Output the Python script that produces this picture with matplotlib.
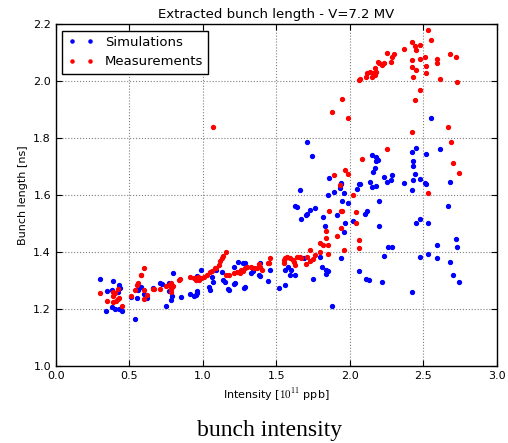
import matplotlib
matplotlib.use("Agg")
import matplotlib.pyplot as plt

# Simulations (blue)
sim_x = [0.30, 0.34, 0.35, 0.38, 0.39, 0.38, 0.40, 0.42, 0.43, 0.435, 0.43, 0.45,
         0.51, 0.535, 0.55, 0.58, 0.60, 0.62, 0.56, 0.66, 0.71, 0.72, 0.75, 0.77,
         0.78, 0.79, 0.80, 0.77, 0.85, 0.91, 0.94, 0.96, 0.96, 0.96, 0.99, 0.97,
         0.95, 1.04, 1.05, 1.06, 1.07, 1.09, 1.13, 1.14, 1.15, 1.17, 1.18, 1.21,
         1.21, 1.22, 1.24, 1.27, 1.29, 1.28, 1.29, 1.33, 1.34, 1.38, 1.39, 1.39,
         1.44, 1.46, 1.52, 1.56, 1.56, 1.58, 1.59, 1.60, 1.63, 1.63, 1.64, 1.66,
         1.67, 1.70, 1.71, 1.73, 1.76, 1.71, 1.74, 1.82, 1.83, 1.69, 1.75, 1.80,
         1.81, 1.84, 1.85, 1.84, 1.88, 1.85, 1.86, 1.89, 1.93, 1.94, 1.94, 1.96,
         1.95, 1.99, 1.91, 1.97, 1.96, 1.94, 2.02, 2.05, 2.06, 2.07, 2.06, 2.10,
         2.12, 2.11, 2.13, 2.14, 2.15, 2.15, 2.18, 2.19, 2.18, 2.17, 2.16, 2.18,
         2.20, 2.20, 2.22, 2.23, 2.23, 2.25, 2.26, 2.29, 2.28, 2.29, 2.37, 2.42,
         2.45, 2.43, 2.43, 2.44, 2.43, 2.48, 2.51, 2.52, 2.42, 2.42, 2.48, 2.45,
         2.53, 2.48, 2.53, 2.55, 2.52, 2.61, 2.59, 2.59, 2.68, 2.67, 2.68, 2.70,
         2.72, 2.73, 2.74]
sim_y = [1.305, 1.194, 1.263, 1.268, 1.298, 1.206, 1.199, 1.261, 1.283, 1.275, 1.200, 1.193,
         1.243, 1.166, 1.237, 1.278, 1.251, 1.237, 1.267, 1.274, 1.292, 1.288, 1.210, 1.263,
         1.230, 1.245, 1.326, 1.290, 1.241, 1.253, 1.245, 1.263, 1.255, 1.316, 1.336, 1.313,
         1.249, 1.278, 1.267, 1.311, 1.296, 1.337, 1.331, 1.302, 1.296, 1.270, 1.267, 1.287,
         1.348, 1.290, 1.366, 1.362, 1.360, 1.272, 1.277, 1.327, 1.333, 1.319, 1.316, 1.360,
         1.298, 1.337, 1.272, 1.284, 1.337, 1.348, 1.319, 1.337, 1.319, 1.561, 1.557, 1.618,
         1.516, 1.530, 1.533, 1.547, 1.553, 1.786, 1.738, 1.523, 1.492, 1.380, 1.304, 1.381,
         1.348, 1.337, 1.334, 1.322, 1.210, 1.600, 1.660, 1.609, 1.625, 1.639, 1.641, 1.605,
         1.577, 1.572, 1.530, 1.500, 1.470, 1.378, 1.510, 1.620, 1.639, 1.639, 1.334, 1.533,
         1.543, 1.306, 1.302, 1.647, 1.629, 1.740, 1.732, 1.723, 1.720, 1.696, 1.681, 1.633,
         1.580, 1.491, 1.294, 1.386, 1.663, 1.646, 1.419, 1.418, 1.653, 1.670, 1.641, 1.751,
         1.766, 1.719, 1.703, 1.675, 1.653, 1.655, 1.641, 1.637, 1.618, 1.261, 1.516, 1.503,
         1.500, 1.383, 1.393, 1.870, 1.745, 1.760, 1.423, 1.379, 1.646, 1.562, 1.364, 1.318,
         1.444, 1.418, 1.294]

# Measurements (red)
meas_x = [0.30, 0.345, 0.39, 0.39, 0.39, 0.40, 0.42, 0.42, 0.43, 0.45, 0.41, 0.51,
          0.54, 0.55, 0.58, 0.58, 0.60, 0.60, 0.60, 0.62, 0.56, 0.66, 0.67, 0.71,
          0.75, 0.78, 0.79, 0.785, 0.77, 0.80, 0.78, 0.84, 0.845, 0.91, 0.94, 0.95,
          0.97, 0.99, 0.96, 0.975, 1.01, 1.03, 1.05, 1.06, 1.07, 1.08, 1.09, 1.11,
          1.12, 1.13, 1.14, 1.16, 1.16, 1.18, 1.21, 1.23, 1.25, 1.26, 1.27, 1.29,
          1.30, 1.33, 1.35, 1.37, 1.38, 1.39, 1.40, 1.44, 1.45, 1.46, 1.55, 1.55,
          1.56, 1.57, 1.59, 1.61, 1.62, 1.63, 1.64, 1.66, 1.67, 1.70, 1.71, 1.73,
          1.73, 1.75, 1.76, 1.80, 1.80, 1.82, 1.84, 1.84, 1.85, 1.85, 1.86, 1.88,
          1.89, 1.91, 1.93, 1.94, 1.94, 1.95, 1.95, 1.96, 1.97, 1.99, 1.99, 2.02,
          2.04, 2.04, 2.06, 2.06, 2.06, 2.07, 2.08, 2.11, 2.12, 2.14, 2.15, 2.16,
          2.17, 2.18, 2.17, 2.19, 2.20, 2.22, 2.23, 2.25, 2.28, 2.29, 2.30, 2.25,
          2.37, 2.42, 2.44, 2.45, 2.48, 2.42, 2.42, 2.43, 2.44, 2.45, 2.48, 2.48,
          2.51, 2.52, 2.52, 2.53, 2.55, 2.59, 2.59, 2.61, 2.68, 2.72, 2.73, 2.42,
          2.53, 2.67, 2.69, 2.70, 2.74]
meas_y = [1.256, 1.229, 1.246, 1.226, 1.260, 1.255, 1.234, 1.269, 1.240, 1.210, 1.228, 1.245,
          1.268, 1.285, 1.318, 1.320, 1.345, 1.268, 1.236, 1.248, 1.290, 1.270, 1.270, 1.270,
          1.280, 1.292, 1.278, 1.270, 1.285, 1.280, 1.260, 1.300, 1.305, 1.313, 1.310, 1.300,
          1.311, 1.310, 1.310, 1.300, 1.313, 1.318, 1.331, 1.333, 1.840, 1.343, 1.343, 1.354,
          1.367, 1.378, 1.387, 1.399, 1.319, 1.319, 1.325, 1.329, 1.326, 1.337, 1.333, 1.343,
          1.348, 1.348, 1.343, 1.343, 1.357, 1.348, 1.337, 1.360, 1.360, 1.377, 1.372, 1.360,
          1.377, 1.383, 1.377, 1.372, 1.365, 1.354, 1.383, 1.383, 1.380, 1.356, 1.383, 1.367,
          1.405, 1.374, 1.390, 1.398, 1.433, 1.426, 1.475, 1.450, 1.426, 1.392, 1.544, 1.892,
          1.671, 1.456, 1.635, 1.545, 1.483, 1.545, 1.935, 1.406, 1.688, 1.672, 1.870, 1.599,
          1.540, 1.500, 1.441, 1.413, 2.002, 2.005, 1.725, 2.013, 2.027, 2.033, 2.015, 2.027,
          2.021, 2.033, 2.047, 2.068, 2.062, 2.056, 2.062, 2.097, 2.068, 2.085, 2.094, 1.762,
          2.112, 2.135, 2.121, 2.109, 2.125, 2.075, 2.048, 2.013, 1.934, 2.040, 2.077, 1.967,
          2.085, 2.053, 2.027, 2.179, 2.145, 2.076, 2.064, 2.007, 2.094, 2.085, 1.996, 1.820,
          1.606, 1.840, 1.785, 1.712, 1.678]

plt.rcParams["mathtext.fontset"] = "cm"

fig = plt.figure(figsize=(5.08, 4.43), dpi=100)
ax = fig.add_axes([0.110, 0.174, 0.868, 0.772])

ax.plot(sim_x, sim_y, "o", color="blue", mec="blue", ms=2.8, label="Simulations")
ax.plot(meas_x, meas_y, "o", color="red", mec="red", ms=2.8, label="Measurements")

ax.set_xlim(0, 3.0)
ax.set_ylim(1.0, 2.2)
ax.set_xticks([0.0, 0.5, 1.0, 1.5, 2.0, 2.5, 3.0])
ax.set_yticks([1.0, 1.2, 1.4, 1.6, 1.8, 2.0, 2.2])
ax.tick_params(direction="in", top=True, right=True, labelsize=8, length=4)
ax.grid(True, linestyle=":", color="gray", linewidth=0.8)
for s in ax.spines.values():
    s.set_linewidth(1.0)

ax.set_title("Extracted bunch length - V=7.2 MV", fontsize=9.5, pad=4)
ax.set_xlabel("Intensity [$10^{11}$ ppb]", fontsize=8, labelpad=4)
ax.set_ylabel("Bunch length [ns]", fontsize=8, labelpad=4)

leg = ax.legend(loc="upper left", numpoints=2, fontsize=9.5, fancybox=False,
                framealpha=1, edgecolor="black", borderaxespad=0.5, markerscale=0.8)
leg.get_frame().set_linewidth(1.0)

fig.text(0.53, 0.005, "bunch intensity", family="Liberation Serif", fontsize=17,
         ha="center", va="bottom")

fig.savefig("out.png", dpi=100)
